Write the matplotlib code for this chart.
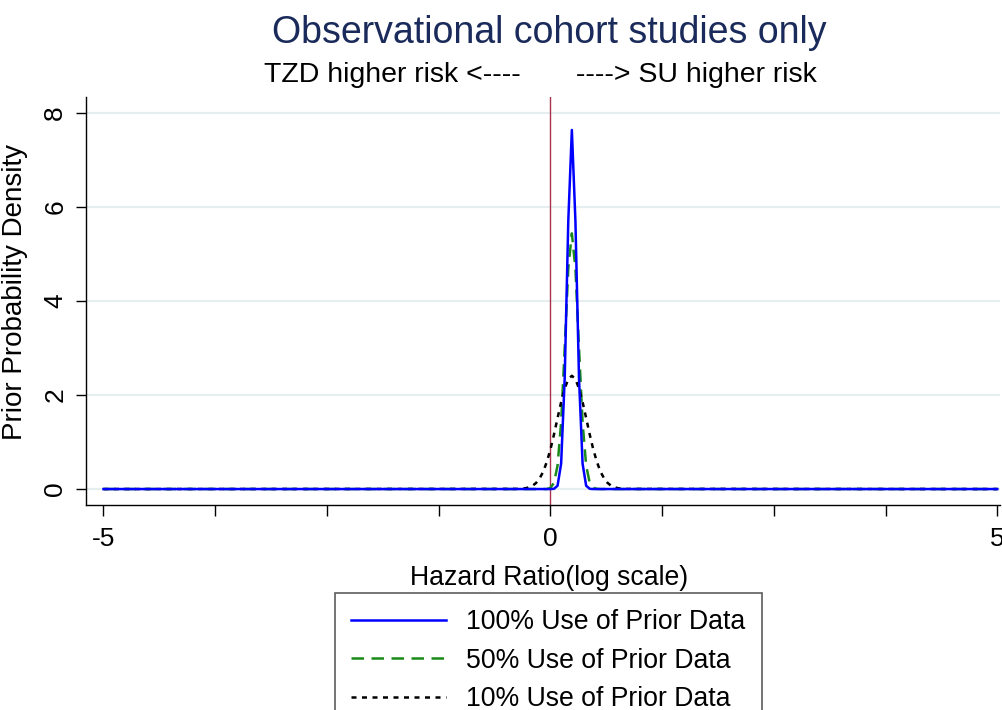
import matplotlib

matplotlib.use("Agg")
import matplotlib.pyplot as plt  # noqa: E402

plt.rcParams["font.family"] = ["Liberation Sans", "DejaVu Sans"]

# Log hazard ratio grid (densities are ~0 outside).
LOG_HR = [-5.0, -0.36, -0.32, -0.28, -0.24, -0.20, -0.16, -0.12, -0.08, -0.04,
          0.00, 0.04, 0.08, 0.12, 0.16, 0.20, 0.24, 0.28, 0.32, 0.36, 0.40,
          0.44, 0.48, 0.52, 0.56, 0.60, 0.64, 0.68, 0.72, 0.76, 0.80, 0.84, 5.0]
DENS_100 = [0, 0, 0, 0, 0, 0, 0, 0, 0, 0,
            0, 0.005, 0.07, 0.54, 2.36, 5.70, 7.64, 5.70, 2.36, 0.54, 0.07,
            0.005, 0, 0, 0, 0, 0, 0, 0, 0, 0, 0, 0]
DENS_50 = [0, 0, 0, 0, 0, 0, 0, 0, 0, 0,
           0.026, 0.13, 0.50, 1.42, 3.00, 4.69, 5.44, 4.69, 3.00, 1.42, 0.50,
           0.13, 0.026, 0.004, 0, 0, 0, 0, 0, 0, 0, 0, 0]
DENS_10 = [0, 0.003, 0.008, 0.017, 0.036, 0.07, 0.13, 0.23, 0.37, 0.58,
           0.84, 1.16, 1.51, 1.85, 2.14, 2.34, 2.41, 2.34, 2.14, 1.85, 1.51,
           1.16, 0.84, 0.58, 0.37, 0.23, 0.13, 0.07, 0.036, 0.017, 0.008, 0.003, 0]

X_TICKS = [-5, -3.75, -2.5, -1.25, 0, 1.25, 2.5, 3.75, 5]
X_TICK_LABELS = ["-5", "", "", "", "0", "", "", "", "5"]
Y_TICKS = [0, 2, 4, 6, 8]
LABELS = ["100% Use of Prior Data", "50% Use of Prior Data", "10% Use of Prior Data"]


def main() -> int:
    fig = plt.figure(figsize=(10.02, 7.10), dpi=100)
    ax = fig.add_axes([0.0858, 0.2887, 0.9122, 0.5746])

    for y in Y_TICKS:
        ax.axhline(y, color="#e6eef0", lw=1.6, zorder=0)
    ax.axvline(0, color="#a8334d", lw=1.0, zorder=1)

    ax.plot(LOG_HR, DENS_100, color="#0000ff", lw=1.8, label=LABELS[0], zorder=4)
    ax.plot(LOG_HR, DENS_50, color="#1a8a1a", lw=1.8, ls=(0, (5, 3)), label=LABELS[1], zorder=3)
    ax.plot(LOG_HR, DENS_10, color="black", lw=1.8, ls=(0, (2, 2.2)), label=LABELS[2], zorder=3)

    ax.set_xlim(-5.196, 5.03)
    ax.set_ylim(-0.34, 8.34)
    ax.set_xticks(X_TICKS)
    ax.set_xticklabels(X_TICK_LABELS, fontsize=19)
    ax.set_yticks(Y_TICKS)
    ax.set_yticklabels([str(v) for v in Y_TICKS], fontsize=19, rotation=90, va="center")
    ax.tick_params(axis="x", direction="out", length=8, width=1, pad=8)
    ax.tick_params(axis="y", direction="out", length=7.5, width=1, pad=6)

    for side in ("top", "right"):
        ax.spines[side].set_visible(False)
    for side in ("left", "bottom"):
        ax.spines[side].set_linewidth(1)

    ax.set_xlabel("Hazard Ratio(log scale)", fontsize=19.2)
    ax.xaxis.set_label_coords(0.5066, -0.147)
    ax.set_ylabel("Prior Probability Density", fontsize=20)
    ax.yaxis.set_label_coords(-0.0635, 0.522)

    fig.text(0.548, 0.9535, "Observational cohort studies only", fontsize=27,
             color="#1a2a5a", ha="center", va="center")
    fig.text(0.539, 0.894, "TZD higher risk <----       ----> SU higher risk",
             fontsize=20.5, ha="center", va="center")

    leg = ax.legend(loc="upper center", bbox_to_anchor=(0.5474, 0.1648),
                    bbox_transform=fig.transFigure, fontsize=19.2, frameon=True,
                    fancybox=False, handlelength=3.56, handletextpad=0.75,
                    labelspacing=0.47, borderpad=0.6, borderaxespad=0)
    leg.get_frame().set_edgecolor("#333333")
    leg.get_frame().set_linewidth(1.2)

    fig.savefig("out.png", dpi=100)
    return 0


if __name__ == "__main__":
    raise SystemExit(main())
